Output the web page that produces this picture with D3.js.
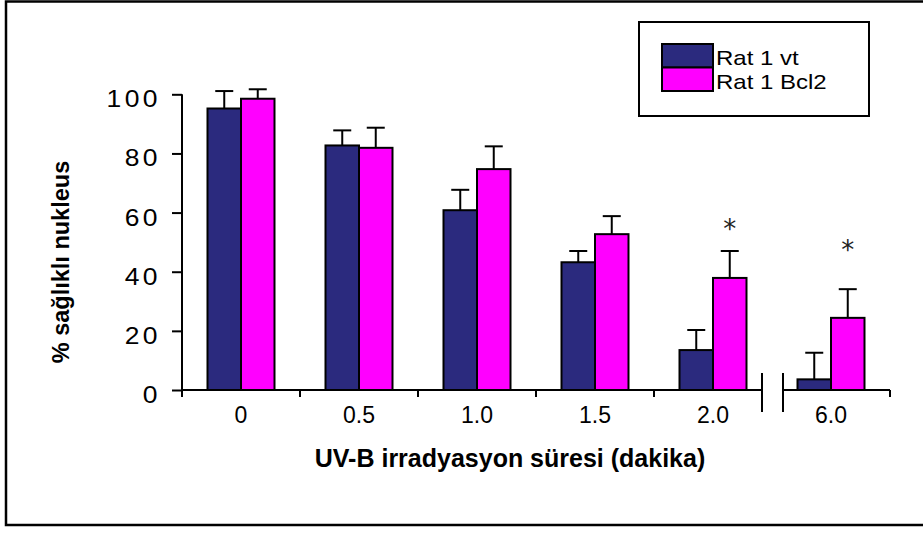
<!DOCTYPE html>
<html>
<head>
<meta charset="utf-8">
<script src="https://cdn.jsdelivr.net/npm/d3@7"></script>
<style>
  html, body { margin: 0; padding: 0; background: #fff; }
  svg { display: block; }
  text { font-family: "Liberation Sans", Arial, Helvetica, sans-serif; fill: #000; }
</style>
</head>
<body>
<svg id="chart" width="923" height="533"></svg>
<script>
// ---- data ----
const categories = ["0", "0.5", "1.0", "1.5", "2.0", "6.0"];
const seriesNames = ["Rat 1 vt", "Rat 1 Bcl2"];
const vtValues = [95.2, 82.7, 60.8, 43.2, 13.5, 3.6];
const vtErrors = [5.9, 5.1, 6.9, 3.8, 6.8, 9.0];
const bcl2Values = [98.5, 81.9, 74.7, 52.7, 37.9, 24.4];
const bcl2Errors = [3.2, 6.8, 7.7, 6.1, 9.1, 9.7];
const yTicks = [0, 20, 40, 60, 80, 100];
const starCategories = ["2.0", "6.0"];
const starValues = [56.8, 49.7];
const xTitle = "UV-B irradyasyon süresi (dakika)";
const yTitle = "% sağlıklı nukleus";
const colors = ["#2B2A7E", "#FF00FF"];

const svg = d3.select("#chart");
svg.append("rect").attr("width", 923).attr("height", 533).attr("fill", "#fff");
// outer frame
svg.append("rect").attr("x", 6).attr("y", 1.5).attr("width", 930).attr("height", 523.5)
  .attr("fill", "none").attr("stroke", "#000").attr("stroke-width", 2.5);

const x0 = d3.scaleBand().domain(categories).range([182, 890]).padding(0);
const x1 = d3.scaleBand().domain(seriesNames).range([0, 67]).padding(0);
const groupOffset = (x0.bandwidth() - 67) / 2;
const y = d3.scaleLinear().domain([0, 100]).range([390, 94.3]);

const series = [
  { name: seriesNames[0], values: vtValues, errors: vtErrors, color: colors[0] },
  { name: seriesNames[1], values: bcl2Values, errors: bcl2Errors, color: colors[1] }
];

// y axis
const yAxis = svg.append("g").attr("transform", "translate(182,0)")
  .call(d3.axisLeft(y).tickValues(yTicks).tickSize(10).tickPadding(0).tickFormat(d3.format("d")));
yAxis.select(".domain").attr("stroke", "#000").attr("stroke-width", 2).attr("d", `M0,${y(100)}V${y(0)}`);
yAxis.selectAll(".tick line").attr("stroke", "#000").attr("stroke-width", 2);
yAxis.selectAll(".tick text")
  .attr("x", null).attr("dy", null)
  .attr("transform", "translate(-21,12.5) scale(1.15,1)")
  .style("font-size", "23px").style("letter-spacing", "3px")
  .attr("font-family", null);

// bars
const groups = svg.append("g").selectAll("g").data(categories).join("g")
  .attr("transform", d => `translate(${x0(d) + groupOffset},0)`);

series.forEach(s => {
  groups.append("rect")
    .attr("x", x1(s.name))
    .attr("width", x1.bandwidth())
    .attr("y", (d, i) => y(s.values[i]))
    .attr("height", (d, i) => y(0) - y(s.values[i]))
    .attr("fill", s.color).attr("stroke", "#000").attr("stroke-width", 2);
  // error bars
  const cx = x1(s.name) + x1.bandwidth() / 2;
  groups.append("line")
    .attr("x1", cx).attr("x2", cx)
    .attr("y1", (d, i) => y(s.values[i]))
    .attr("y2", (d, i) => y(s.values[i] + s.errors[i]))
    .attr("stroke", "#000").attr("stroke-width", 2);
  groups.append("line")
    .attr("x1", cx - 9).attr("x2", cx + 9)
    .attr("y1", (d, i) => y(s.values[i] + s.errors[i]))
    .attr("y2", (d, i) => y(s.values[i] + s.errors[i]))
    .attr("stroke", "#000").attr("stroke-width", 2);
});

// x axis (broken)
const xAxisG = svg.append("g").attr("transform", `translate(0,${y(0)})`);
const breakLeft = x0("6.0") - 10;
const breakRight = x0("6.0") + 11;
xAxisG.append("path").attr("d", `M182,0H${breakLeft}M${breakRight},0H${x0.range()[1]}`)
  .attr("stroke", "#000").attr("stroke-width", 2).attr("fill", "none");
const tickXs = categories.slice(0, 5).map(c => x0(c)).concat([x0.range()[1]]);
xAxisG.selectAll("line.tick").data(tickXs).join("line").attr("class", "tick")
  .attr("x1", d => d).attr("x2", d => d).attr("y1", 0).attr("y2", 7)
  .attr("stroke", "#000").attr("stroke-width", 2);
xAxisG.selectAll("line.brk").data([breakLeft, breakRight]).join("line").attr("class", "brk")
  .attr("x1", d => d).attr("x2", d => d).attr("y1", -17).attr("y2", 22)
  .attr("stroke", "#000").attr("stroke-width", 2);
xAxisG.selectAll("text").data(categories).join("text")
  .attr("x", d => x0(d) + x0.bandwidth() / 2).attr("y", 33)
  .attr("text-anchor", "middle").style("font-size", "23px")
  .text(d => d);

// stars
svg.append("g").selectAll("text").data(starCategories).join("text")
  .attr("x", d => x0(d) + groupOffset + x1(seriesNames[1]) + x1.bandwidth() / 2)
  .attr("y", (d, i) => y(starValues[i]) + 16)
  .attr("text-anchor", "middle")
  .style("font-family", "'DejaVu Sans', sans-serif").style("font-size", "26px")
  .style("fill", "#222")
  .text("*");

// axis titles
svg.append("text").attr("x", 510).attr("y", 467).attr("text-anchor", "middle")
  .style("font-size", "25px").style("font-weight", "bold").text(xTitle);
svg.append("text").attr("transform", "translate(69,262) rotate(-90)").attr("text-anchor", "middle")
  .style("font-size", "23.5px").style("font-weight", "bold").text(yTitle);

// legend
const legend = svg.append("g");
legend.append("rect").attr("x", 639).attr("y", 22).attr("width", 230).attr("height", 94)
  .attr("fill", "#fff").attr("stroke", "#000").attr("stroke-width", 2);
const li = legend.selectAll("g").data(series).join("g")
  .attr("transform", (d, i) => `translate(662,${44 + i * 23.5})`);
li.append("rect").attr("width", 51).attr("height", 23.5)
  .attr("fill", d => d.color).attr("stroke", "#000").attr("stroke-width", 2);
li.append("text").attr("transform", "translate(54,21) scale(1.2,1)")
  .style("font-size", "20px").text(d => d.name);
</script>
</body>
</html>
